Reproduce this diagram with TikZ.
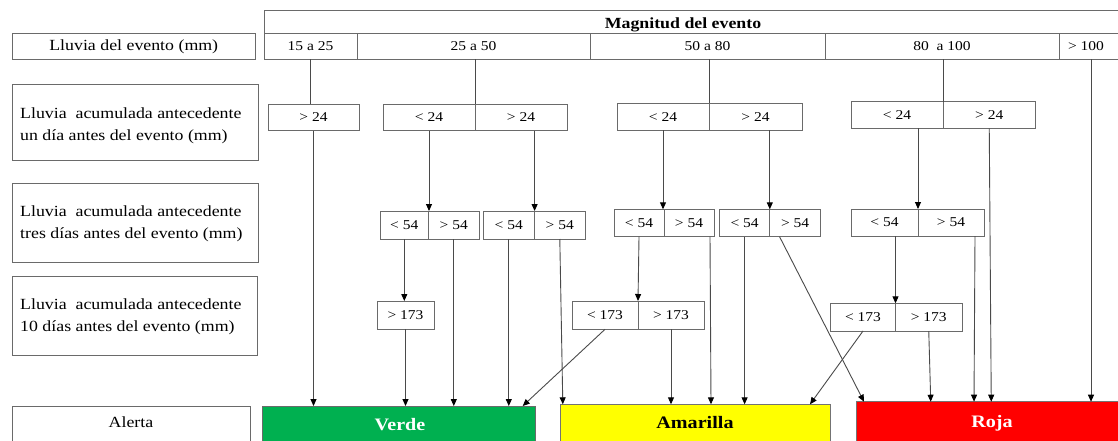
\documentclass[tikz,border=0pt]{standalone}
\usepackage{fontspec}
\setmainfont{Liberation Serif}[FakeStretch=1.15]
\usetikzlibrary{arrows.meta}
\definecolor{linegray}{HTML}{4A4A4A}
\definecolor{boxgray}{HTML}{6A6A6A}
\definecolor{verdefill}{HTML}{00B050}
\definecolor{amarfill}{HTML}{FFFF00}
\definecolor{rojafill}{HTML}{FF0000}
\tikzset{
  box/.style={draw=boxgray, line width=1pt, inner sep=0pt, outer sep=0pt, rectangle, font=\fontsize{13.5}{16}\selectfont},
  lab/.style={font=\fontsize{15.5}{22}\selectfont, inner sep=0pt},
  ln/.style={draw=linegray, line width=0.9pt},
  arr/.style={ln, -{Triangle[length=7pt,width=6pt,color=black]}},
  alerttext/.style={font=\fontsize{17.5}{20}\selectfont\bfseries, inner sep=0pt},
}
\newcommand\mybox[7]{\node[box,#7,minimum width={#4-#2}, minimum height={#5-#3}] (#1) at ({(#2+#4)/2},{(#3+#5)/2}) {#6};}
\begin{document}
\begin{tikzpicture}[x=1pt,y=-1pt]
\path[use as bounding box, clip] (0,0) rectangle (1118,440);
\fill[white] (0,0) rectangle (1118,440);
% header
\mybox{hdr}{264}{10}{1140}{33.3}{}{}
\node[font=\fontsize{15.5}{18}\selectfont\bfseries, inner sep=0pt] (hdrt) at (683,25) {Magnitud del evento};
\mybox{c1}{264}{33.3}{357}{59.3}{15 a 25}{}
\mybox{c2}{357}{33.3}{590}{59.3}{25 a 50}{}
\mybox{c3}{590}{33.3}{825}{59.3}{50 a 80}{}
\mybox{c4}{825}{33.3}{1059}{59.3}{80\ \ a 100}{}
\mybox{c5}{1059}{33.3}{1140}{59.3}{}{}
\node[font=\fontsize{13.5}{16}\selectfont, inner sep=0pt] (t5) at (1086,46.3) {> 100};
% labels
\mybox{L1}{12.5}{33.3}{255}{59.3}{}{}
\node[lab] (L1t) at (L1) {Lluvia del evento (mm)};
\mybox{L2}{12.5}{84.3}{258}{160}{}{}
\node[lab, anchor=west, align=left] (L2t) at (20,125.3) {Lluvia\ \ acumulada antecedente\\un día antes del evento (mm)};
\mybox{L3}{12.5}{183.3}{258}{262.7}{}{}
\node[lab, anchor=west, align=left] (L3t) at (20,224.2) {Lluvia\ \ acumulada antecedente\\tres días antes del evento (mm)};
\mybox{L4}{12.5}{276}{257}{355.7}{}{}
\node[lab, anchor=west, align=left] (L4t) at (20,316.3) {Lluvia\ \ acumulada antecedente\\10 días antes del evento (mm)};
\mybox{L5}{12.5}{406}{250}{460}{}{}
\node[lab] (L5t) at (131,421.7) {Alerta};
% level 1
\mybox{a1}{268}{104.3}{359}{130.7}{> 24}{}
\mybox{a2l}{383}{104.3}{475}{130.7}{< 24}{}
\mybox{a2r}{475}{104.3}{567}{130.7}{> 24}{}
\mybox{a3l}{617}{103.3}{709}{130}{< 24}{}
\mybox{a3r}{709}{103.3}{802}{130}{> 24}{}
\mybox{a4l}{851}{101.7}{943}{128.3}{< 24}{}
\mybox{a4r}{943}{101.7}{1035.5}{128.3}{> 24}{}
% level 2
\mybox{b1l}{380}{211}{428.6}{239}{< 54}{}
\mybox{b1r}{428.6}{211}{479}{239}{> 54}{}
\mybox{b2l}{483}{211}{534.6}{239}{< 54}{}
\mybox{b2r}{534.6}{211}{585}{239}{> 54}{}
\mybox{b3l}{614}{209.3}{664}{236.7}{< 54}{}
\mybox{b3r}{664}{209.3}{714}{236.7}{> 54}{}
\mybox{b4l}{719.4}{209.3}{769.8}{236.7}{< 54}{}
\mybox{b4r}{769.8}{209.3}{820.5}{236.7}{> 54}{}
\mybox{b5l}{851}{209}{918}{236}{< 54}{}
\mybox{b5r}{918}{209}{984}{236}{> 54}{}
% level 3
\mybox{e1}{377}{301}{434}{329.3}{> 173}{}
\mybox{d1l}{572}{301}{638}{329.3}{< 173}{}
\mybox{d1r}{638}{301}{704}{329.3}{> 173}{}
\mybox{d2l}{830.5}{303.3}{895.5}{331}{< 173}{}
\mybox{d2r}{895.5}{303.3}{962}{331}{> 173}{}
% alerts
\mybox{verde}{262.7}{406}{535.7}{444}{}{fill=verdefill}
\node[alerttext, text=white] (verdet) at (400,425) {Verde};
\mybox{amar}{560}{404.3}{830}{442.3}{}{fill=amarfill, draw=black!55}
\node[alerttext, text=black] (amart) at (695,423) {Amarilla};
\mybox{roja}{856}{401.7}{1128}{444.3}{}{fill=rojafill, draw=black!55}
\node[alerttext, text=white] (rojat) at (992,423) {Roja};
% connectors header -> level 1
\draw[ln] (c1.south) -- (c1.south |- a1.north);
\draw[ln] (a2l.north east |- c2.south) -- (a2l.north east);
\draw[ln] (a3l.north east |- c3.south) -- (a3l.north east);
\draw[ln] (a4l.north east |- c4.south) -- (a4l.north east);
\draw[arr] ([xshift=5pt]t5.center |- c5.south) -- ([xshift=5pt]t5.center |- roja.north);
% level 1 -> level 2 / alerts
\draw[arr] (a1.south) -- (a1.south |- verde.north);
\draw[arr] (a2l.south) -- (a2l.south |- b1l.north);
\draw[arr] (b2l.north east |- a2r.south) -- (b2l.north east);
\draw[arr] (a3l.south) -- (a3l.south |- b3l.north);
\draw[arr] (b4l.north east |- a3r.south) -- (b4l.north east);
\draw[arr] (b5l.north east |- a4l.south) -- (b5l.north east);
\draw[arr] (a4r.south) -- ([xshift=2pt]a4r.south |- roja.north);
% level 2 -> level 3 / alerts
\draw[arr] (b1l.south) -- (b1l.south |- e1.north);
\draw[arr] (b1r.south) -- (b1r.south |- verde.north);
\draw[arr] (b2l.south) -- (b2l.south |- verde.north);
\draw[arr] (b2r.south) -- ([xshift=3pt]b2r.south |- amar.north);
\draw[arr] (b3l.south) -- (d1l.north east);
\draw[arr] ([xshift=21pt]b3r.south) -- ([xshift=22pt]b3r.south |- amar.north);
\draw[arr] (b4l.south) -- (b4l.south |- amar.north);
\draw[arr] ([xshift=-15.6pt]b4r.south) -- ([xshift=8pt]roja.north west);
\draw[arr] (d2l.north east |- b5l.south) -- (d2l.north east);
\draw[arr] ([xshift=24pt]b5r.south) -- ([xshift=23pt]b5r.south |- roja.north);
% level 3 -> alerts
\draw[arr] (e1.south) -- (e1.south |- verde.north);
\draw[arr] (d1l.south) -- ([xshift=-13pt]verde.north east);
\draw[arr] (d1r.south) -- (d1r.south |- amar.north);
\draw[arr] (d2l.south) -- ([xshift=-20pt]amar.north east);
\draw[arr] (d2r.south) -- ([xshift=2pt]d2r.south |- roja.north);
\end{tikzpicture}
\end{document}
